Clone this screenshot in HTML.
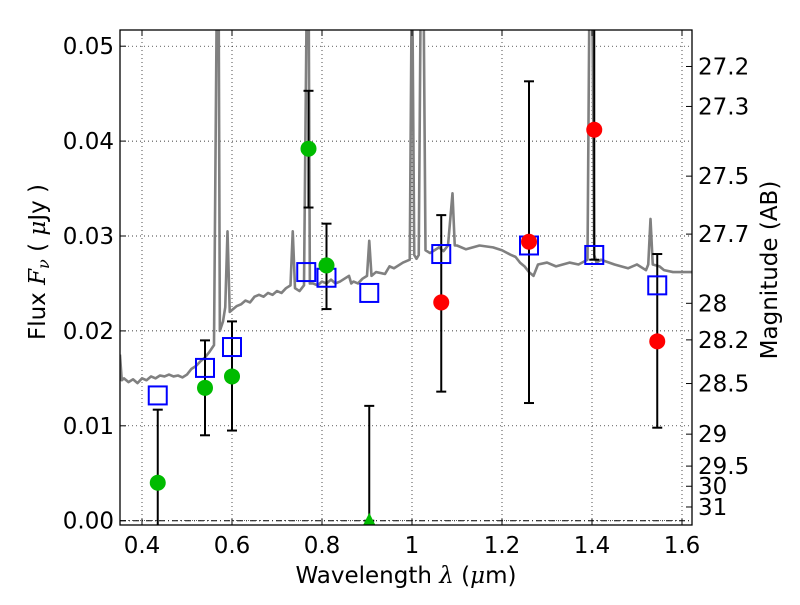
<!DOCTYPE html>
<html><head><meta charset="utf-8"><style>
body{margin:0;background:#fff;}
svg text{font-family:"DejaVu Sans","Liberation Sans",sans-serif;}
</style></head><body>
<svg id="chart" width="800" height="600" xmlns="http://www.w3.org/2000/svg"></svg>
<script>
const xTicks=[0.4,0.6,0.8,1.0,1.2,1.4,1.6];
const xTickLabels=["0.4","0.6","0.8","1","1.2","1.4","1.6"];
const yTicks=[0,0.01,0.02,0.03,0.04,0.05];
const yTickLabels=["0.00","0.01","0.02","0.03","0.04","0.05"];
const magTicks=[27.2,27.3,27.5,27.7,28,28.2,28.5,29,29.5,30,31];
const specLam=[0.351,0.355,0.36,0.37,0.38,0.39,0.40,0.41,0.42,0.43,0.44,0.45,0.46,0.47,0.48,0.49,0.50,0.51,0.52,0.53,0.54,0.55,0.56,0.567,0.57,0.573,0.58,0.585,0.59,0.595,0.6,0.61,0.62,0.63,0.64,0.65,0.66,0.67,0.68,0.69,0.7,0.71,0.72,0.73,0.735,0.74,0.75,0.76,0.767,0.77,0.773,0.78,0.79,0.8,0.81,0.82,0.83,0.84,0.85,0.86,0.865,0.87,0.88,0.89,0.9,0.905,0.91,0.92,0.94,0.95,0.96,0.98,0.995,1.0,1.005,1.01,1.015,1.02,1.025,1.03,1.04,1.05,1.06,1.07,1.08,1.09,1.095,1.1,1.12,1.15,1.18,1.2,1.22,1.23,1.24,1.25,1.26,1.27,1.28,1.3,1.32,1.35,1.37,1.39,1.395,1.4,1.405,1.41,1.42,1.45,1.48,1.5,1.52,1.525,1.53,1.535,1.55,1.56,1.58,1.6,1.622];
const specFlux=[0.0175,0.0148,0.0150,0.0146,0.0149,0.0145,0.0150,0.0148,0.0152,0.0150,0.0153,0.0152,0.0154,0.0152,0.0153,0.0151,0.0154,0.0160,0.0163,0.0168,0.0172,0.0178,0.0185,0.060,0.060,0.0200,0.0210,0.0225,0.0305,0.0220,0.0222,0.0226,0.0228,0.0232,0.0230,0.0236,0.0238,0.0236,0.0240,0.0238,0.0242,0.0240,0.0245,0.0248,0.0305,0.0245,0.0242,0.0248,0.060,0.060,0.0250,0.0250,0.0248,0.0252,0.0250,0.0254,0.0250,0.0252,0.0255,0.0258,0.0250,0.0252,0.0250,0.0255,0.0258,0.0295,0.0258,0.0262,0.0260,0.0268,0.0266,0.0272,0.0275,0.060,0.0280,0.0276,0.0280,0.060,0.060,0.0285,0.0282,0.0285,0.0288,0.0284,0.0290,0.0345,0.0290,0.0290,0.0286,0.0290,0.0288,0.0285,0.0280,0.0278,0.0272,0.0268,0.0262,0.0258,0.0270,0.0272,0.0268,0.0272,0.0270,0.0275,0.060,0.060,0.0280,0.0272,0.0275,0.0270,0.0266,0.0270,0.0264,0.0270,0.0318,0.0270,0.0268,0.0264,0.0262,0.0262,0.0262];
const modelLam=[0.435,0.54,0.60,0.765,0.81,0.905,1.065,1.26,1.405,1.545];
const modelFlux=[0.0132,0.0161,0.0183,0.0262,0.0256,0.0240,0.0281,0.0290,0.0280,0.0248];
const obsLam=[0.435,0.54,0.60,0.77,0.81,0.905,1.065,1.26,1.405,1.545];
const obsFlux=[0.0040,0.0140,0.0152,0.0392,0.0269,0.0,0.0230,0.0294,0.0412,0.0189];
const obsLo=[-0.001,0.0090,0.0095,0.0330,0.0223,0.0,0.0136,0.0124,0.0275,0.0098];
const obsHi=[0.0117,0.0190,0.0210,0.0453,0.0313,0.0121,0.0322,0.0463,0.060,0.0281];
const obsColor=["#00bb00","#00bb00","#00bb00","#00bb00","#00bb00","#00bb00","#ff0000","#ff0000","#ff0000","#ff0000"];
const obsUpper=[false,false,false,false,false,true,false,false,false,false];

const L=120,R=692,T=30,B=525;
const X=l=>142+(l-0.4)*450;
const Y=f=>520.7-f*9490;
const svg=document.getElementById('chart');
const NS="http://www.w3.org/2000/svg";
function mk(tag,attrs,parent){const e=document.createElementNS(NS,tag);for(const k in attrs)e.setAttribute(k,attrs[k]);(parent||svg).appendChild(e);return e;}
const cp=mk('clipPath',{id:'clip'});
mk('rect',{x:L,y:T,width:R-L,height:B-T},cp);
const g=mk('g',{'clip-path':'url(#clip)'});


xTicks.forEach(t=>{const l=mk('line',{x1:X(t),x2:X(t),y1:T,y2:B,stroke:'#000','stroke-width':0.7,'stroke-dasharray':'1,3'},g);

});
yTicks.forEach(t=>{const l=mk('line',{x1:L,x2:R,y1:Y(t),y2:Y(t),stroke:'#000','stroke-width':0.7,'stroke-dasharray':'1,3'},g);

});
const zl=mk('line',{x1:L,x2:R,y1:Y(0),y2:Y(0),stroke:'#000','stroke-width':1,'stroke-dasharray':'6,3,1,3'},g);


const sp=mk('polyline',{points:specLam.map((l,i)=>X(l)+','+Y(specFlux[i])).join(' '),fill:'none',stroke:'#808080','stroke-width':2.6,'stroke-linejoin':'round'},g);


obsLam.forEach((l,i)=>{const x=X(l);
const e=mk('line',{x1:x,x2:x,y1:Y(obsLo[i]),y2:Y(obsHi[i]),stroke:'#000','stroke-width':2},g);


[obsLo[i],obsHi[i]].forEach(v=>{const c=mk('line',{x1:x-5,x2:x+5,y1:Y(v),y2:Y(v),stroke:'#000','stroke-width':2},g);

});});
modelLam.forEach((l,i)=>{const r=mk('rect',{x:X(l)-9,y:Y(modelFlux[i])-9,width:18,height:18,fill:'none',stroke:'#0000ff','stroke-width':2},g);

});
obsLam.forEach((l,i)=>{const x=X(l),y=Y(obsFlux[i]);let p;
if(obsUpper[i]){p=mk('path',{d:`M${x-6},${y+4} L${x+6},${y+4} L${x},${y-8} Z`,fill:obsColor[i]},g);}
else p=mk('circle',{cx:x,cy:y,r:8,fill:obsColor[i]},g);

});
const fr=mk('rect',{x:L,y:T,width:R-L,height:B-T,fill:'none',stroke:'#000','stroke-width':1.3});


const FS=23;
xTicks.forEach((t,i)=>{const x=X(t);
mk('line',{x1:x,x2:x,y1:B,y2:B-6,stroke:'#000'});mk('line',{x1:x,x2:x,y1:T,y2:T+6,stroke:'#000'});
const tx=mk('text',{x:x,y:B+28,'text-anchor':'middle','font-size':FS});tx.textContent=xTickLabels[i];

});
yTicks.forEach((t,i)=>{const y=Y(t);
mk('line',{x1:L,x2:L+6,y1:y,y2:y,stroke:'#000'});
const tx=mk('text',{x:L-6,y:y+8,'text-anchor':'end','font-size':FS});tx.textContent=yTickLabels[i];

});
magTicks.forEach(m=>{const y=Y(Math.pow(10,(23.9-m)/2.5));
mk('line',{x1:R,x2:R-6,y1:y,y2:y,stroke:'#000'});
const tx=mk('text',{x:R+6,y:y+8,'font-size':FS});tx.textContent=String(m);

});
</script>
<svg width="800" height="600" style="position:absolute;left:0;top:0" xmlns="http://www.w3.org/2000/svg">
<text x="406" y="583" text-anchor="middle" font-size="23" font-family="DejaVu Sans, sans-serif">Wavelength  <tspan font-style="italic" font-family="DejaVu Serif, serif">λ</tspan> (<tspan font-style="italic" font-family="DejaVu Serif, serif">μ</tspan>m)</text>
<text transform="translate(45,262) rotate(-90)" text-anchor="middle" font-size="23" font-family="DejaVu Sans, sans-serif">Flux  <tspan font-style="italic" font-family="DejaVu Serif, serif">F<tspan font-size="16" dy="4">ν</tspan></tspan><tspan dy="-4">  ( </tspan><tspan font-style="italic" font-family="DejaVu Serif, serif">μ</tspan>Jy )</text>
<text transform="translate(777,270) rotate(-90)" text-anchor="middle" font-size="23" font-family="DejaVu Sans, sans-serif">Magnitude (AB)</text>
</svg>
</body></html>
